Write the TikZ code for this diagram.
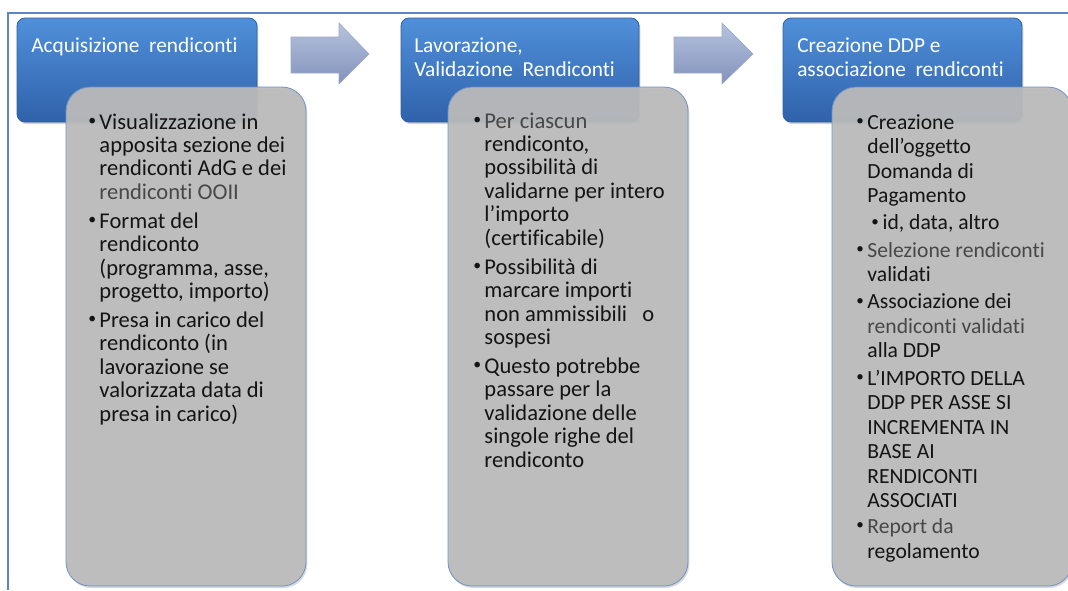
\documentclass[tikz,border=0pt]{standalone}
\usepackage{fontspec}
\setmainfont{Carlito}[Ligatures=CommonOff]
\usetikzlibrary{shadows}
\definecolor{framec}{HTML}{5A86C4}
\definecolor{bluetop}{HTML}{5090DA}
\definecolor{bluemid}{HTML}{3D77C3}
\definecolor{bluebot}{HTML}{2F62AA}
\definecolor{blueedge}{HTML}{2F5F9F}
\definecolor{greyfill}{HTML}{BBBBBB}
\definecolor{greyedge}{HTML}{6E92C6}
\definecolor{arrtop}{HTML}{B6C3DE}
\definecolor{arrbot}{HTML}{8292BB}
\definecolor{arredge}{HTML}{9AA9C6}
\newcommand{\bul}{\makebox[8.4pt][l]{\raisebox{.35ex}{\scalebox{.7}{\textbullet}}}}
\newcommand{\nob}{\hspace*{8.4pt}}
\newcommand{\lite}[1]{\textcolor{black!72}{#1}}
\begin{document}
\begin{tikzpicture}[x=0.75pt,y=-0.75pt,
  bluebox/.style={draw=blueedge,line width=0.6pt,rounded corners=6pt,top color=bluetop,middle color=bluemid,bottom color=bluebot,
    drop shadow={opacity=0.35,shadow xshift=1pt,shadow yshift=-1.5pt}},
  greybox/.style={draw=greyedge,line width=0.6pt,rounded corners=18pt,fill=greyfill,fill opacity=0.93,
    drop shadow={opacity=0.3,shadow xshift=1pt,shadow yshift=-1.5pt}},
  arrowbox/.style={draw=arredge,line width=0.4pt,top color=arrtop,bottom color=arrbot},
  titletext/.style={anchor=base west,inner sep=0pt,text=white,font=\fontsize{16}{18}\selectfont},
  itemtext/.style={anchor=base west,inner sep=0pt,text=black!92,font=\fontsize{16.9}{17.6}\selectfont}]
\useasboundingbox (0,0) rectangle (1068,590);
\draw[framec,line width=1.2pt] (8,590)--(8,13)--(1068,13);
\draw[bluebox] (17,18) rectangle (257,122);
\draw[bluebox] (401,18) rectangle (639,122);
\draw[bluebox] (783,18) rectangle (1022,122);
\draw[arrowbox] (291,37)--(339,37)--(339,23)--(369,54)--(339,84)--(339,73)--(291,73)--cycle;
\draw[arrowbox] (674,37)--(722,37)--(722,23)--(753,54)--(722,84)--(722,73)--(674,73)--cycle;
\draw[greybox] (66,87) rectangle (306,586);
\draw[greybox] (448,87) rectangle (688,586);
\draw[greybox] (832,87) rectangle (1072,586);
\node (tit1) at (31,52)[titletext]{\parbox[t]{200pt}{\raggedright Acquisizione\ \ rendiconti}};
\node (tit2) at (414,52)[titletext]{\parbox[t]{200pt}{\raggedright Lavorazione,\\ Validazione\ \ Rendiconti}};
\node (tit3) at (797,52)[titletext]{\parbox[t]{200pt}{\raggedright Creazione DDP e\\ associazione\ \ rendiconti}};
\node (acq) at (88,129)[itemtext]{\parbox[t]{200pt}{\raggedright
\bul Visualizzazione in\\
\nob apposita sezione dei\\
\nob rendiconti AdG e dei\\
\nob \lite{rendiconti OOII}\\[4pt]
\bul Format del\\
\nob rendiconto\\
\nob (programma, asse,\\
\nob progetto, importo)\\[4pt]
\bul Presa in carico del\\
\nob rendiconto (in\\
\nob lavorazione se\\
\nob valorizzata data di\\
\nob presa in carico)}};
\node (lav) at (473,128)[itemtext]{\parbox[t]{200pt}{\raggedright
\bul \lite{Per ciascun}\\
\nob rendiconto,\\
\nob possibilità di\\
\nob validarne per intero\\
\nob l’importo\\
\nob (certificabile)\\[4pt]
\bul Possibilità di\\
\nob marcare importi\\
\nob non ammissibili\ \ \ o\\
\nob sospesi\\[4pt]
\bul Questo potrebbe\\
\nob passare per la\\
\nob validazione delle\\
\nob singole righe del\\
\nob rendiconto}};
\node (ddp) at (856,129)[itemtext,font=\fontsize{16.2}{18.4}\selectfont]{\parbox[t]{200pt}{\raggedright
\bul Creazione\\
\nob dell’oggetto\\
\nob Domanda di\\
\nob Pagamento\\[2pt]
\nob\hspace*{3pt}\bul id, data, altro\\[2pt]
\bul \lite{Selezione rendiconti}\\
\nob validati\\[2pt]
\bul Associazione dei\\
\nob \lite{rendiconti validati}\\
\nob alla DDP\\[2pt]
\bul L’IMPORTO DELLA\\
\nob DDP PER ASSE SI\\
\nob INCREMENTA IN\\
\nob BASE AI\\
\nob RENDICONTI\\
\nob ASSOCIATI\\[1pt]
\bul \lite{Report da}\\
\nob regolamento}};
\end{tikzpicture}
\end{document}
